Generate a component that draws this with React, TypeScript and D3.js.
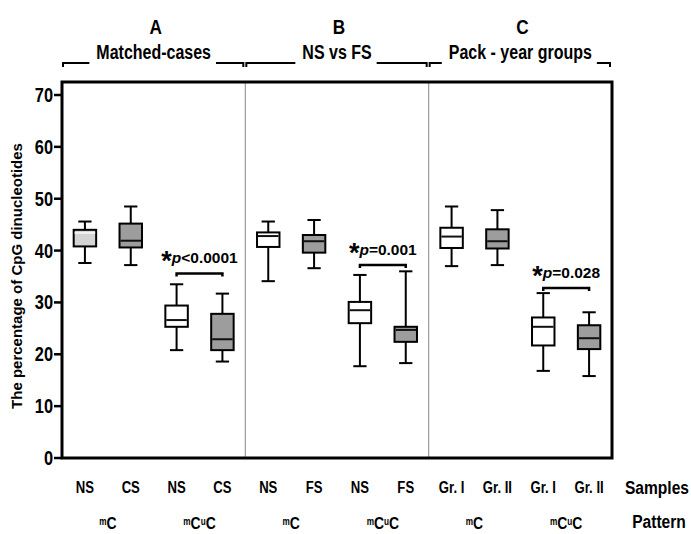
import React, { useEffect, useLayoutEffect, useRef, useState } from "react";
import * as d3 from "d3";

// --- data ---
const sectionLetters = ["A", "B", "C"];
const sectionTitles = ["Matched-cases", "NS vs FS", "Pack - year groups"];
const samples = ["NS", "CS", "NS", "CS", "NS", "FS", "NS", "FS", "Gr. I", "Gr. II", "Gr. I", "Gr. II"];
const patterns = ["mC", "mCuC", "mC", "mCuC", "mC", "mCuC"];
const boxFill = ["light", "dark", "white", "dark", "white", "dark", "white", "dark", "white", "dark", "white", "dark"];

const whiskerHigh = [45.6, 48.5, 33.5, 31.7, 45.6, 45.9, 35.3, 36.0, 48.5, 47.8, 31.8, 28.1];
const q3 = [44.0, 45.2, 29.4, 27.8, 43.5, 43.0, 30.1, 25.3, 44.4, 44.1, 27.1, 25.6];
const median = [43.4, 41.9, 26.6, 22.9, 42.8, 41.8, 28.5, 24.7, 42.7, 41.8, 25.3, 23.1];
const q1 = [40.8, 40.6, 25.3, 20.8, 40.7, 39.6, 26.0, 22.4, 40.5, 40.4, 21.7, 21.0];
const whiskerLow = [37.6, 37.2, 20.8, 18.6, 34.1, 36.6, 17.7, 18.3, 37.0, 37.2, 16.8, 15.8];

const sigPairs = [[2, 3], [6, 7], [10, 11]];
const sigLevel = [35.6, 37.2, 32.8];
const sigText = ["<0.0001", "=0.001", "=0.028"];

const yTicks = [0, 10, 20, 30, 40, 50, 60, 70];

const W = 691;
const H = 534;
const margin = { top: 82, right: 79, bottom: 76, left: 62 };
const SANS = "'Liberation Sans', Arial, sans-serif";
const SQUEEZE = 0.82; // the figure uses a condensed bold face

const fills: Record<string, string> = { light: "#d4d4d4", dark: "#9d9d9d", white: "#ffffff" };
const medianColor: Record<string, string> = { light: "#f2f2f2", dark: "#111", white: "#111" };

// condensed bold text: regular face squeezed horizontally
function NText({ x, y, size, anchor = "middle", children, tref }: any) {
    return (
        <text
            ref={tref}
            transform={`translate(${x},${y}) scale(${SQUEEZE},1)`}
            textAnchor={anchor}
            fontFamily={SANS}
            fontWeight="bold"
            fontSize={size}
        >
            {children}
        </text>
    );
}

function HeaderBracket({ x0, x1, label }: { x0: number; x1: number; label: string }) {
    const ref = useRef<SVGTextElement>(null);
    const [tw, setTw] = useState(label.length * 8);
    useLayoutEffect(() => {
        if (ref.current) setTw(ref.current.getComputedTextLength() * SQUEEZE);
    }, [label]);
    const cx = (x0 + x1) / 2;
    const y = 63;
    return (
        <g>
            <path d={`M${x0 + 1},${y + 4}V${y}H${cx - tw / 2 - 7}`} fill="none" stroke="#000" strokeWidth={2} />
            <path d={`M${cx + tw / 2 + 5},${y}H${x1 - 2}V${y + 4}`} fill="none" stroke="#000" strokeWidth={2} />
            <NText tref={ref} x={cx} y={59} size={19.5}>
                {label}
            </NText>
        </g>
    );
}

// lowercase letters are drawn as small raised marks (mC, mCuC)
function PatternLabel({ x, y, label }: { x: number; y: number; label: string }) {
    const parts = label.split("");
    return (
        <NText x={x} y={y} size={15}>
            {parts.map((c, i) => {
                const sup = c === c.toLowerCase();
                const prevSup = i > 0 && parts[i - 1] === parts[i - 1].toLowerCase();
                return (
                    <tspan key={i} fontSize={sup ? 10 : 17} dy={sup ? -4 : prevSup ? 4 : 0}>
                        {c}
                    </tspan>
                );
            })}
        </NText>
    );
}

export default function App() {
    useEffect(() => {
        document.body.style.margin = "0";
    }, []);

    const x = d3
        .scaleBand<number>()
        .domain(d3.range(samples.length))
        .range([margin.left, W - margin.right])
        .padding(0);
    const y = d3.scaleLinear().domain([0, 70]).range([H - margin.bottom, 95]);

    const bw = x.bandwidth();
    const boxW = bw * 0.49;
    const capW = bw * 0.29;
    const cx = (i: number) => (x(i) as number) + bw / 2;
    const secW = bw * 4;

    return (
        <svg width={W} height={H} style={{ display: "block", background: "#fff" }}>
            {/* section letters + brackets */}
            {sectionLetters.map((s, i) => {
                const x0 = x(i * 4) as number;
                return (
                    <g key={s}>
                        <NText x={x0 + secW / 2 + 2} y={34} size={21}>
                            {s}
                        </NText>
                        <HeaderBracket x0={x0} x1={x0 + secW} label={sectionTitles[i]} />
                    </g>
                );
            })}

            {/* section dividers */}
            {[1, 2].map(k => (
                <line key={k} x1={x(k * 4)} x2={x(k * 4)} y1={margin.top} y2={H - margin.bottom} stroke="#9a9a9a" strokeWidth={1.2} />
            ))}

            {/* frame */}
            <rect
                x={margin.left}
                y={margin.top}
                width={W - margin.left - margin.right}
                height={H - margin.top - margin.bottom}
                fill="none"
                stroke="#000"
                strokeWidth={3}
            />

            {/* y axis */}
            {yTicks.map(t => (
                <g key={t}>
                    <line x1={margin.left - 8} x2={margin.left} y1={y(t)} y2={y(t)} stroke="#000" strokeWidth={2.5} />
                    <NText x={margin.left - 9} y={y(t) + 7} size={20} anchor="end">
                        {t}
                    </NText>
                </g>
            ))}
            <text
                transform={`translate(22,${(H - margin.bottom + margin.top) / 2 + 6}) rotate(-90)`}
                textAnchor="middle"
                fontFamily={SANS}
                fontWeight="bold"
                fontSize={15}
            >
                The percentage of CpG dinucleotides
            </text>

            {/* boxes */}
            {samples.map((s, i) => {
                const c = cx(i);
                const type = boxFill[i];
                return (
                    <g key={i} stroke="#000" strokeWidth={2}>
                        <line x1={c} x2={c} y1={y(whiskerHigh[i])} y2={y(q3[i])} />
                        <line x1={c} x2={c} y1={y(q1[i])} y2={y(whiskerLow[i])} />
                        <line x1={c - capW / 2} x2={c + capW / 2} y1={y(whiskerHigh[i])} y2={y(whiskerHigh[i])} />
                        <line x1={c - capW / 2} x2={c + capW / 2} y1={y(whiskerLow[i])} y2={y(whiskerLow[i])} />
                        <rect x={c - boxW / 2} y={y(q3[i])} width={boxW} height={y(q1[i]) - y(q3[i])} fill={fills[type]} />
                        <line
                            x1={c - boxW / 2 + 1}
                            x2={c + boxW / 2 - 1}
                            y1={y(median[i])}
                            y2={y(median[i])}
                            stroke={medianColor[type]}
                        />
                    </g>
                );
            })}

            {/* significance brackets */}
            {sigPairs.map(([a, b], k) => {
                const ly = y(sigLevel[k]);
                const mid = (cx(a) + cx(b)) / 2;
                return (
                    <g key={k}>
                        <path
                            d={`M${cx(a)},${ly + 3}V${ly}H${cx(b)}V${ly + 3}`}
                            fill="none"
                            stroke="#000"
                            strokeWidth={2.5}
                        />
                        <text x={mid} y={ly - 10} textAnchor="middle" fontFamily={SANS} fontWeight="bold" fontSize={15.5}>
                            <tspan fontSize={27} dy={7}>*</tspan>
                            <tspan fontStyle="italic" dy={-7}>p</tspan>
                            <tspan>{sigText[k]}</tspan>
                        </text>
                    </g>
                );
            })}

            {/* sample labels */}
            {samples.map((s, i) => (
                <NText key={i} x={cx(i)} y={493} size={16}>
                    {s}
                </NText>
            ))}
            <NText x={657} y={494} size={19}>
                Samples
            </NText>

            {/* pattern labels */}
            {patterns.map((p, k) => (
                <PatternLabel key={k} x={(x(k * 2) as number) + bw} y={529} label={p} />
            ))}
            <NText x={659} y={528} size={19}>
                Pattern
            </NText>
        </svg>
    );
}
